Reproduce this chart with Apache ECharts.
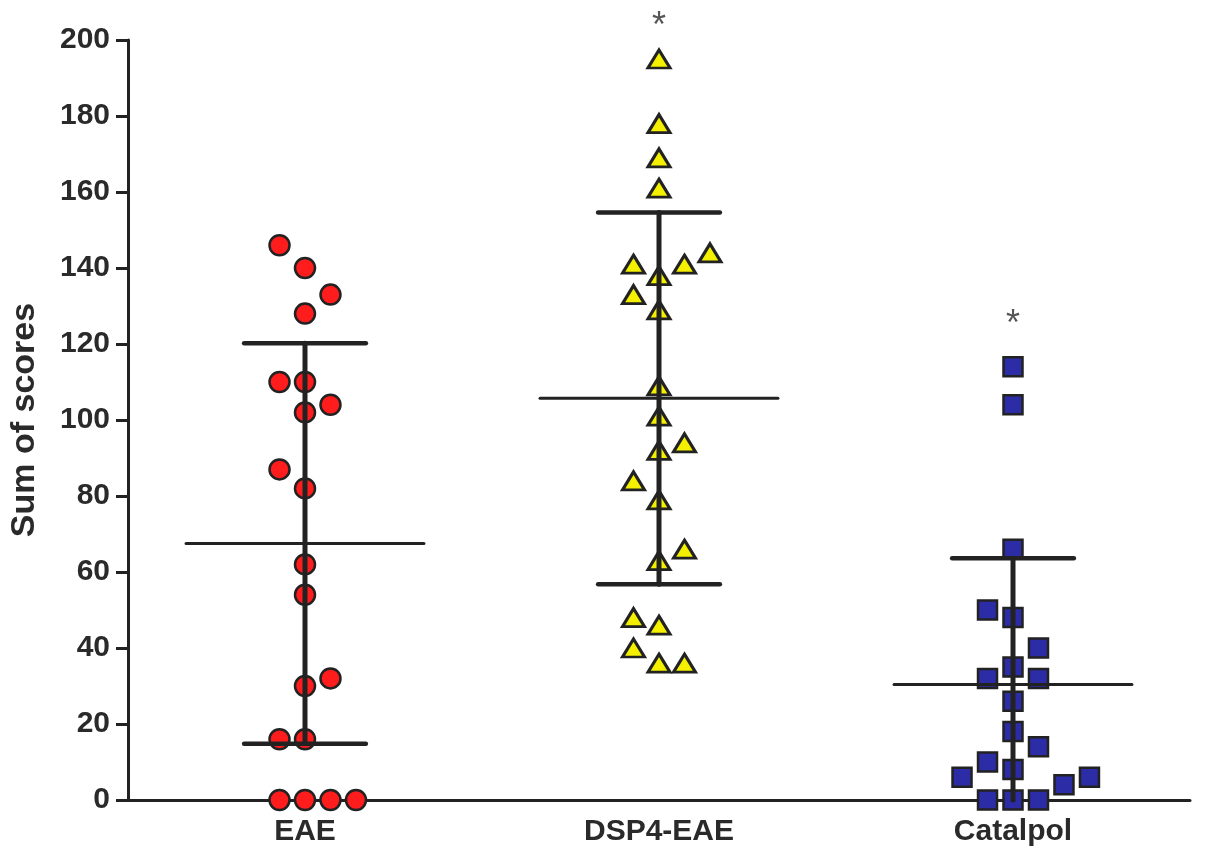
<!DOCTYPE html>
<html>
<head>
<meta charset="utf-8">
<title>Sum of scores</title>
<script src="https://cdn.jsdelivr.net/npm/echarts@6/dist/echarts.min.js"></script>
<style>
  html, body { margin: 0; padding: 0; background: #fff; }
  #chart { width: 1205px; height: 862px; }
</style>
</head>
<body>
<div id="chart"></div>
<script>
// groups
var categories = ['EAE', 'DSP4-EAE', 'Catalpol'];

// individual scores and their column slot (-1 left, 0 centre, +1 right ...)
var eaeScores = [146, 140, 133, 128, 110, 110, 104, 102, 87, 82, 62, 54, 32, 30, 16, 16, 0, 0, 0, 0];
var eaeSlots  = [-1, 0, 1, 0, -1, 0, 1, 0, -1, 0, 0, 0, 1, 0, -1, 0, -1, 0, 1, 2];

var dspScores = [195, 178, 169, 161, 144, 141, 141, 138, 133, 129, 109, 101, 94, 92, 84, 79, 66, 63, 48, 46, 40, 36, 36];
var dspSlots  = [0, 0, 0, 0, 2, -1, 1, 0, -1, 0, 0, 0, 1, 0, -1, 0, 1, 0, -1, 0, -1, 0, 1];

var catScores = [114, 104, 66, 50, 48, 40, 35, 32, 32, 26, 18, 14, 10, 8, 6, 4, 6, 0, 0, 0];
var catSlots  = [0, 0, 0, -1, 0, 1, 0, -1, 1, 0, 0, 1, -1, 0, -2, 2, 3, -1, 0, 1];

// mean and SD per group
var means = [67.5, 105.7, 30.4];
var sds   = [52.7, 48.9, 33.2];

// significance marks (group index, height)
var sigGroups = [1, 2];
var sigHeights = [203.5, 125];

var yTicks = [0, 20, 40, 60, 80, 100, 120, 140, 160, 180, 200];

var SLOT = 0.072;      // horizontal spread of one slot, in group units
var MEAN_HALF = 0.336; // half width of mean line
var CAP_HALF = 0.172;  // half width of SD caps
var FONT = '"Liberation Sans", Arial, sans-serif';
var INK = '#222';

function points(g, scores, slots) {
  var out = [];
  for (var i = 0; i < scores.length; i++) {
    out.push([g + 0.5 + slots[i] * SLOT, scores[i]]);
  }
  return out;
}

var barData = [];
for (var i = 0; i < means.length; i++) barData.push([i + 0.5, means[i], sds[i]]);

var sigData = [];
for (var i = 0; i < sigGroups.length; i++) sigData.push([sigGroups[i] + 0.5, sigHeights[i]]);

var chart = echarts.init(document.getElementById('chart'));
chart.setOption({
  animation: false,
  backgroundColor: '#fff',
  grid: { left: 128, right: 15, top: 40, bottom: 62 },
  xAxis: [{
    type: 'category',
    data: categories,
    boundaryGap: true,
    axisLine: { lineStyle: { color: INK, width: 3 } },
    axisTick: { show: false },
    axisLabel: { color: '#2a2a2a', fontSize: 30, fontWeight: 'bold', fontFamily: FONT, margin: 17 }
  }, {
    type: 'value',
    min: 0, max: 3,
    show: false
  }],
  yAxis: {
    type: 'value',
    min: yTicks[0], max: yTicks[yTicks.length - 1], interval: 20,
    name: 'Sum of scores',
    nameLocation: 'middle',
    nameRotate: 90,
    nameGap: 86,
    nameTextStyle: { color: '#2a2a2a', fontSize: 34, fontWeight: 'bold', fontFamily: FONT },
    axisLine: { show: true, lineStyle: { color: INK, width: 3 } },
    axisTick: { show: true, length: 12, lineStyle: { color: INK, width: 3 } },
    axisLabel: { color: '#2a2a2a', fontSize: 30, fontWeight: 'bold', fontFamily: FONT, margin: 18 },
    splitLine: { show: false }
  },
  series: [{
    name: categories[0],
    type: 'scatter',
    xAxisIndex: 1,
    symbol: 'circle',
    symbolSize: 20,
    itemStyle: { color: '#ff1c1c', borderColor: INK, borderWidth: 2.5, opacity: 1 },
    data: points(0, eaeScores, eaeSlots)
  }, {
    name: categories[1],
    type: 'scatter',
    xAxisIndex: 1,
    symbol: 'triangle',
    symbolSize: [22, 18],
    itemStyle: { color: '#f4f000', borderColor: INK, borderWidth: 3, opacity: 1 },
    data: points(1, dspScores, dspSlots)
  }, {
    name: categories[2],
    type: 'scatter',
    xAxisIndex: 1,
    symbol: 'rect',
    symbolSize: 19,
    itemStyle: { color: '#2c2ca6', borderColor: INK, borderWidth: 2.5, opacity: 1 },
    data: points(2, catScores, catSlots)
  }, {
    name: 'mean_sd',
    type: 'custom',
    xAxisIndex: 1,
    z: 5,
    data: barData,
    renderItem: function (params, api) {
      var x = api.value(0), m = api.value(1), s = api.value(2);
      var lo = Math.max(m - s, 0);
      var top = api.coord([x, m + s]);
      var bot = api.coord([x, lo]);
      var mid = api.coord([x, m]);
      var halfMean = api.size([MEAN_HALF, 0])[0];
      var halfCap = api.size([CAP_HALF, 0])[0];
      var st = { stroke: INK, lineCap: 'round' };
      var kids = [
        { type: 'line', shape: { x1: top[0], y1: top[1], x2: bot[0], y2: bot[1] }, style: Object.assign({ lineWidth: 5 }, st) },
        { type: 'line', shape: { x1: top[0] - halfCap, y1: top[1], x2: top[0] + halfCap, y2: top[1] }, style: Object.assign({ lineWidth: 4.5 }, st) },
        { type: 'line', shape: { x1: mid[0] - halfMean, y1: mid[1], x2: mid[0] + halfMean, y2: mid[1] }, style: Object.assign({ lineWidth: 3 }, st) }
      ];
      if (m - s >= 0) {
        kids.push({ type: 'line', shape: { x1: bot[0] - halfCap, y1: bot[1], x2: bot[0] + halfCap, y2: bot[1] }, style: Object.assign({ lineWidth: 4.5 }, st) });
      }
      return { type: 'group', children: kids };
    }
  }, {
    name: 'sig',
    type: 'scatter',
    xAxisIndex: 1,
    symbolSize: 0,
    clip: false,
    silent: true,
    label: {
      show: true, position: 'inside', formatter: '*',
      color: '#2a2a2a', fontSize: 36, fontFamily: FONT
    },
    data: sigData
  }]
});
</script>
</body>
</html>
